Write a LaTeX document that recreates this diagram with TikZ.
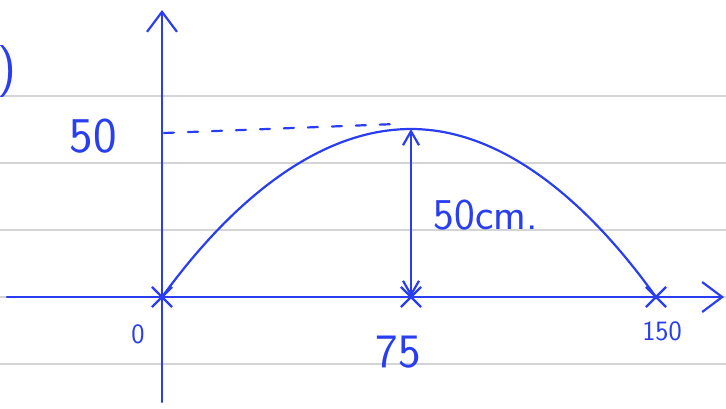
\documentclass[tikz,border=0pt]{standalone}
\usepackage{xcolor}
\usetikzlibrary{shapes.misc, arrows.meta, positioning}
\definecolor{pen}{RGB}{40,62,240}
\definecolor{ruling}{RGB}{212,212,212}

\begin{document}
\begin{tikzpicture}[x=1pt, y=-1pt,
    ink/.style={draw=pen, line width=2.2pt, line cap=round},
    crossmark/.style={cross out, draw=pen, line width=2.2pt, minimum size=18pt, inner sep=0pt},
    handtext/.style={text=pen, inner sep=0pt},
    axistip/.style={-{Straight Barb[length=20pt, width=30pt]}}
]
% Paper
\useasboundingbox (0,0) rectangle (726,408);
\fill[white] (0,0) rectangle (726,408);
\foreach \y in {96, 163, 230, 297, 364}
    \draw[ruling, line width=1.5pt] (0,\y) -- (726,\y);

% Axes
\coordinate (yb) at (162,402);
\coordinate (yt) at (162,10);
\coordinate (xl) at (7,297);
\coordinate (xr) at (724,297);
\draw[ink, axistip] (yb) -- (yt);
\draw[ink, axistip] (xl) -- (xr);

% Crosses on the x-axis
\node[crossmark] (c0) at (162,297) {};
\node[crossmark] (c75) at (411,297) {};
\node[crossmark] (c150) at (656,297) {};

% Curve
\coordinate (top) at (411,129);
\draw[ink] (c0.center) parabola bend (top) (c150.center);
\draw[ink, {Straight Barb[length=14pt, width=16pt]}-{Straight Barb[length=14pt, width=16pt]}] (c75.center) -- (top);

% Height guide
\coordinate (h50) at (164,133);
\coordinate (d50) at (396,124);
\draw[ink, dash pattern=on 10pt off 14pt] (h50) -- (d50);

% Labels
\node[handtext, font=\sffamily\fontsize{50}{50}\selectfont] (t50) at (93,136) {50};
\node[handtext, font=\sffamily\fontsize{28}{28}\selectfont] (t0) at (138,334) {0};
\node[handtext, font=\sffamily\fontsize{48}{48}\selectfont] (t75) at (398,352) {75};
\node[handtext, font=\sffamily\fontsize{28}{28}\selectfont] (t150) at (662,331) {150};
\node[handtext, font=\sffamily\fontsize{44}{44}\selectfont] (tcm) at (486,215) {50cm.};
\node[handtext, font=\sffamily\fontsize{52}{52}\selectfont, anchor=east] (tpar) at (17,72) {)};

\end{tikzpicture}
\end{document}
